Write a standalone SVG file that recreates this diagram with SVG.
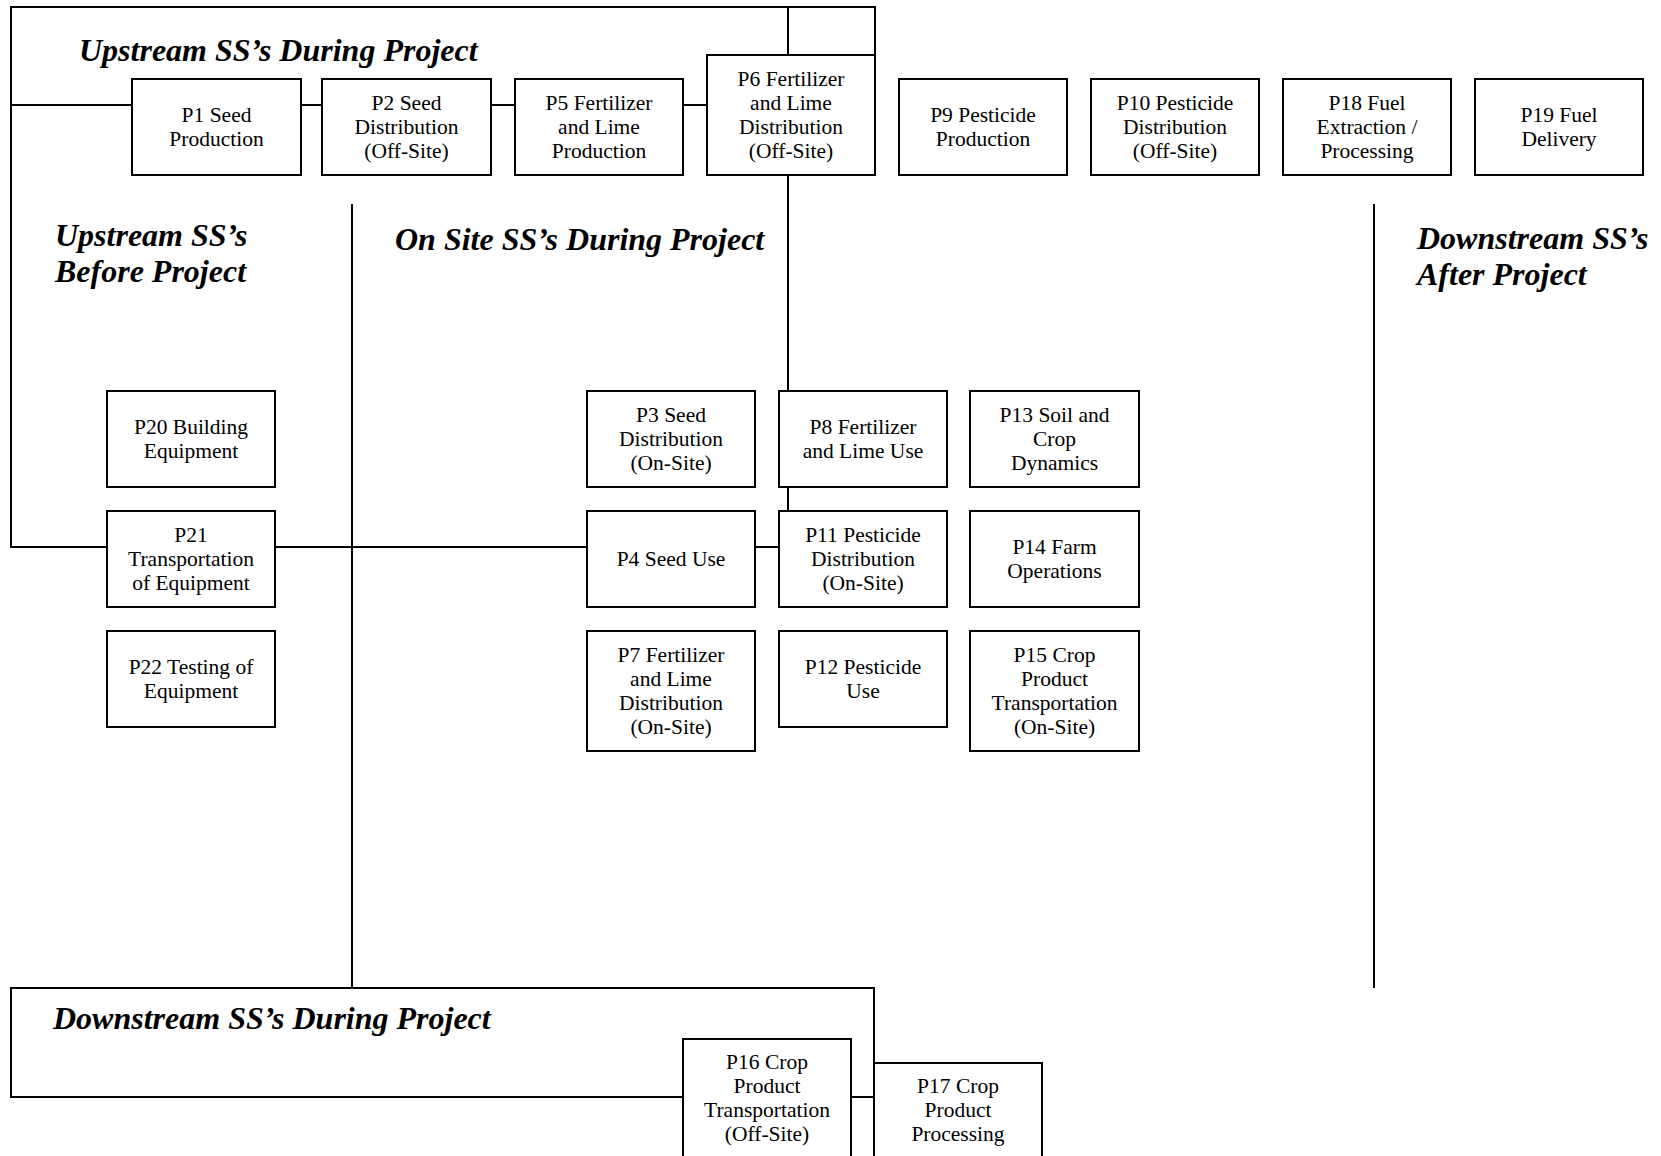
<svg xmlns="http://www.w3.org/2000/svg" width="1661" height="1156" viewBox="0 0 1661 1156">
  <style>
    .box { fill: #ffffff; stroke: #000000; stroke-width: 2; }
    .wire { fill: none; stroke: #000000; stroke-width: 2; }
    .lbl { font-family: "Liberation Serif", "Times New Roman", serif; font-size: 21.5px; fill: #000000; text-anchor: middle; }
    .title { font-family: "Liberation Serif", "Times New Roman", serif; font-size: 32px; font-weight: bold; font-style: italic; fill: #000000; }
  </style>
  <rect x="0" y="0" width="1661" height="1156" fill="#ffffff"/>

  <!-- frames and connecting lines, drawn beneath the nodes -->
  <g id="connectors">
    <!-- upstream-during frame, continuing down the left side to P21 / P4 / P11 -->
    <path class="wire" d="M875,55 V7 H11 V547 H779"/>
    <!-- chain through the upstream nodes -->
    <path class="wire" d="M11,105 H707"/>
    <!-- vertical spine P6 - P8 - P11 -->
    <path class="wire" d="M788,7 V511"/>
    <!-- region dividers -->
    <path class="wire" d="M352,204 V988"/>
    <path class="wire" d="M1374,204 V988"/>
    <!-- downstream-during frame -->
    <rect class="wire" x="11" y="988" width="863" height="109"/>
  </g>

  <!-- region titles -->
  <g id="titles">
    <text class="title" x="79" y="61">Upstream SS’s During Project</text>
    <text class="title" x="55" y="246">Upstream SS’s</text>
    <text class="title" x="55" y="282">Before Project</text>
    <text class="title" x="395" y="250">On Site SS’s During Project</text>
    <text class="title" x="1417" y="249">Downstream SS’s</text>
    <text class="title" x="1417" y="285">After Project</text>
    <text class="title" x="53" y="1029">Downstream SS’s During Project</text>
  </g>

  <!-- upstream nodes during project -->
  <g id="p1">
    <rect class="box" x="132" y="79" width="169" height="96"/>
    <text class="lbl"><tspan x="216.5" y="121.5">P1 Seed</tspan><tspan x="216.5" y="145.5">Production</tspan></text>
  </g>
  <g id="p2">
    <rect class="box" x="322" y="79" width="169" height="96"/>
    <text class="lbl"><tspan x="406.5" y="109.5">P2 Seed</tspan><tspan x="406.5" y="133.5">Distribution</tspan><tspan x="406.5" y="157.5">(Off-Site)</tspan></text>
  </g>
  <g id="p5">
    <rect class="box" x="515" y="79" width="168" height="96"/>
    <text class="lbl"><tspan x="599" y="109.5">P5 Fertilizer</tspan><tspan x="599" y="133.5">and Lime</tspan><tspan x="599" y="157.5">Production</tspan></text>
  </g>
  <g id="p6">
    <rect class="box" x="707" y="55" width="168" height="120"/>
    <text class="lbl"><tspan x="791" y="85.5">P6 Fertilizer</tspan><tspan x="791" y="109.5">and Lime</tspan><tspan x="791" y="133.5">Distribution</tspan><tspan x="791" y="157.5">(Off-Site)</tspan></text>
  </g>
  <g id="p9">
    <rect class="box" x="899" y="79" width="168" height="96"/>
    <text class="lbl"><tspan x="983" y="121.5">P9 Pesticide</tspan><tspan x="983" y="145.5">Production</tspan></text>
  </g>
  <g id="p10">
    <rect class="box" x="1091" y="79" width="168" height="96"/>
    <text class="lbl"><tspan x="1175" y="109.5">P10 Pesticide</tspan><tspan x="1175" y="133.5">Distribution</tspan><tspan x="1175" y="157.5">(Off-Site)</tspan></text>
  </g>
  <g id="p18">
    <rect class="box" x="1283" y="79" width="168" height="96"/>
    <text class="lbl"><tspan x="1367" y="109.5">P18 Fuel</tspan><tspan x="1367" y="133.5">Extraction /</tspan><tspan x="1367" y="157.5">Processing</tspan></text>
  </g>
  <g id="p19">
    <rect class="box" x="1475" y="79" width="168" height="96"/>
    <text class="lbl"><tspan x="1559" y="121.5">P19 Fuel</tspan><tspan x="1559" y="145.5">Delivery</tspan></text>
  </g>

  <!-- upstream nodes before project -->
  <g id="p20">
    <rect class="box" x="107" y="391" width="168" height="96"/>
    <text class="lbl"><tspan x="191" y="433.5">P20 Building</tspan><tspan x="191" y="457.5">Equipment</tspan></text>
  </g>
  <g id="p21">
    <rect class="box" x="107" y="511" width="168" height="96"/>
    <text class="lbl"><tspan x="191" y="541.5">P21</tspan><tspan x="191" y="565.5">Transportation</tspan><tspan x="191" y="589.5">of Equipment</tspan></text>
  </g>
  <g id="p22">
    <rect class="box" x="107" y="631" width="168" height="96"/>
    <text class="lbl"><tspan x="191" y="673.5">P22 Testing of</tspan><tspan x="191" y="697.5">Equipment</tspan></text>
  </g>

  <!-- on-site nodes -->
  <g id="p3">
    <rect class="box" x="587" y="391" width="168" height="96"/>
    <text class="lbl"><tspan x="671" y="421.5">P3 Seed</tspan><tspan x="671" y="445.5">Distribution</tspan><tspan x="671" y="469.5">(On-Site)</tspan></text>
  </g>
  <g id="p8">
    <rect class="box" x="779" y="391" width="168" height="96"/>
    <text class="lbl"><tspan x="863" y="433.5">P8 Fertilizer</tspan><tspan x="863" y="457.5">and Lime Use</tspan></text>
  </g>
  <g id="p13">
    <rect class="box" x="970" y="391" width="169" height="96"/>
    <text class="lbl"><tspan x="1054.5" y="421.5">P13 Soil and</tspan><tspan x="1054.5" y="445.5">Crop</tspan><tspan x="1054.5" y="469.5">Dynamics</tspan></text>
  </g>
  <g id="p4">
    <rect class="box" x="587" y="511" width="168" height="96"/>
    <text class="lbl"><tspan x="671" y="565.5">P4 Seed Use</tspan></text>
  </g>
  <g id="p11">
    <rect class="box" x="779" y="511" width="168" height="96"/>
    <text class="lbl"><tspan x="863" y="541.5">P11 Pesticide</tspan><tspan x="863" y="565.5">Distribution</tspan><tspan x="863" y="589.5">(On-Site)</tspan></text>
  </g>
  <g id="p14">
    <rect class="box" x="970" y="511" width="169" height="96"/>
    <text class="lbl"><tspan x="1054.5" y="553.5">P14 Farm</tspan><tspan x="1054.5" y="577.5">Operations</tspan></text>
  </g>
  <g id="p7">
    <rect class="box" x="587" y="631" width="168" height="120"/>
    <text class="lbl"><tspan x="671" y="661.5">P7 Fertilizer</tspan><tspan x="671" y="685.5">and Lime</tspan><tspan x="671" y="709.5">Distribution</tspan><tspan x="671" y="733.5">(On-Site)</tspan></text>
  </g>
  <g id="p12">
    <rect class="box" x="779" y="631" width="168" height="96"/>
    <text class="lbl"><tspan x="863" y="673.5">P12 Pesticide</tspan><tspan x="863" y="697.5">Use</tspan></text>
  </g>
  <g id="p15">
    <rect class="box" x="970" y="631" width="169" height="120"/>
    <text class="lbl"><tspan x="1054.5" y="661.5">P15 Crop</tspan><tspan x="1054.5" y="685.5">Product</tspan><tspan x="1054.5" y="709.5">Transportation</tspan><tspan x="1054.5" y="733.5">(On-Site)</tspan></text>
  </g>

  <!-- downstream nodes during project -->
  <g id="p16">
    <rect class="box" x="683" y="1039" width="168" height="122"/>
    <text class="lbl"><tspan x="767" y="1069">P16 Crop</tspan><tspan x="767" y="1093">Product</tspan><tspan x="767" y="1117">Transportation</tspan><tspan x="767" y="1141">(Off-Site)</tspan></text>
  </g>
  <g id="p17">
    <rect class="box" x="874" y="1063" width="168" height="98"/>
    <text class="lbl"><tspan x="958" y="1093">P17 Crop</tspan><tspan x="958" y="1117">Product</tspan><tspan x="958" y="1141">Processing</tspan></text>
  </g>
</svg>
